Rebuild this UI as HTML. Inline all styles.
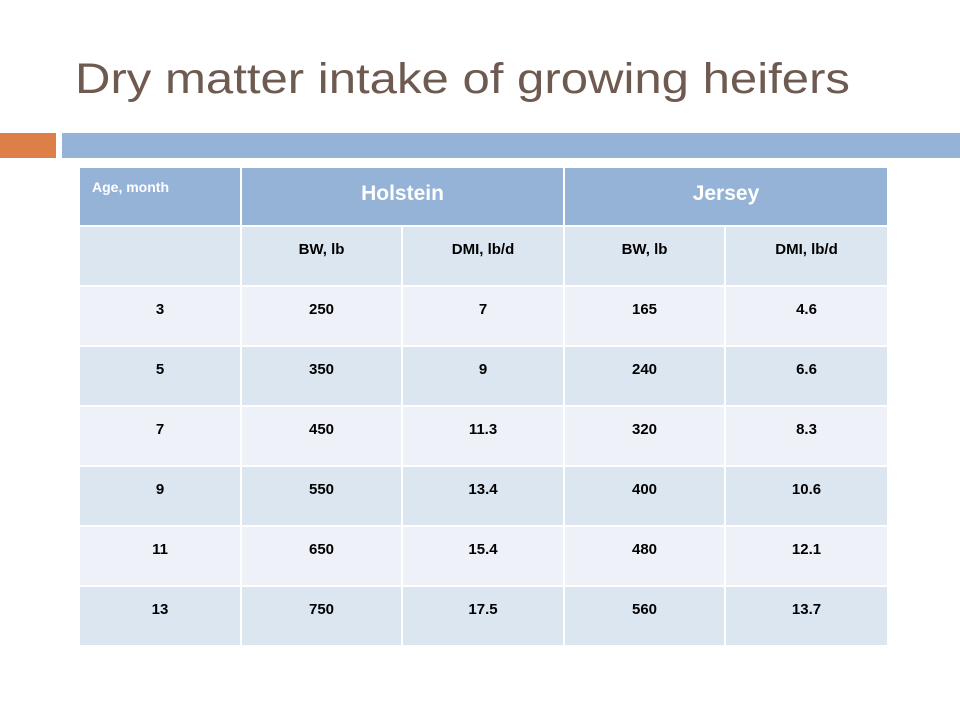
<!DOCTYPE html>
<html><head><meta charset="utf-8"><style>
body{margin:0;width:960px;height:720px;background:#fff;position:relative;overflow:hidden;font-family:"Liberation Sans",sans-serif}
.c{position:absolute;box-sizing:border-box;text-align:center;font-weight:bold;font-size:15px;color:#000;padding-top:14px}
.h{background:#95b3d7;color:#fff}
.d{background:#dce6f1}
.l{background:#eef2f8}
</style></head><body>
<svg style="position:absolute;left:0;top:0" width="960" height="120">
<text x="75" y="93" font-family="Liberation Sans, sans-serif" font-size="43" fill="#6e5a50" textLength="775" lengthAdjust="spacingAndGlyphs">Dry matter intake of growing heifers</text>
</svg>
<div style="position:absolute;left:0;top:133px;width:56px;height:25px;background:#dd8047"></div>
<div style="position:absolute;left:62px;top:133px;width:898px;height:25px;background:#95b3d7"></div>
<div id="tbl"></div>
<script>
const cols=[80,242,403,565,726,887];
const rows=[
 ["3","250","7","165","4.6"],
 ["5","350","9","240","6.6"],
 ["7","450","11.3","320","8.3"],
 ["9","550","13.4","400","10.6"],
 ["11","650","15.4","480","12.1"],
 ["13","750","17.5","560","13.7"]];
const sub=["","BW, lb","DMI, lb/d","BW, lb","DMI, lb/d"];
const tbl=document.getElementById('tbl');
function cell(x1,x2,y,h,cls,txt,name,style){
 const d=document.createElement('div');
 d.className='c '+cls;
 d.style.left=x1+'px';d.style.top=y+'px';d.style.width=(x2-x1)+'px';d.style.height=h+'px';
 d.style.borderRight='2px solid #fff';d.style.borderBottom='2px solid #fff';
 if(style)Object.assign(d.style,style);
 d.textContent=txt;
 
 
 tbl.appendChild(d);
}
cell(80,242,168,59,'h','Age, month','header-age',{textAlign:'left',paddingLeft:'12px',fontSize:'14px',paddingTop:'11px'});
cell(242,565,168,59,'h','Holstein','header-holstein',{fontSize:'21px',paddingTop:'14px'});
cell(565,887,168,59,'h','Jersey','header-jersey',{fontSize:'21px',paddingTop:'14px',borderRight:'none'});
let y=227;
for(let i=0;i<5;i++)cell(cols[i],cols[i+1],y,60,'d',sub[i],'subheader-cell',{borderRight:i==4?'none':'2px solid #fff'});
y+=60;
rows.forEach((r,ri)=>{
 r.forEach((v,i)=>cell(cols[i],cols[i+1],y,60,ri%2?'d':'l',v,'data-cell',{borderRight:i==4?'none':'2px solid #fff'}));
 y+=60;
});
</script>
</body></html>
